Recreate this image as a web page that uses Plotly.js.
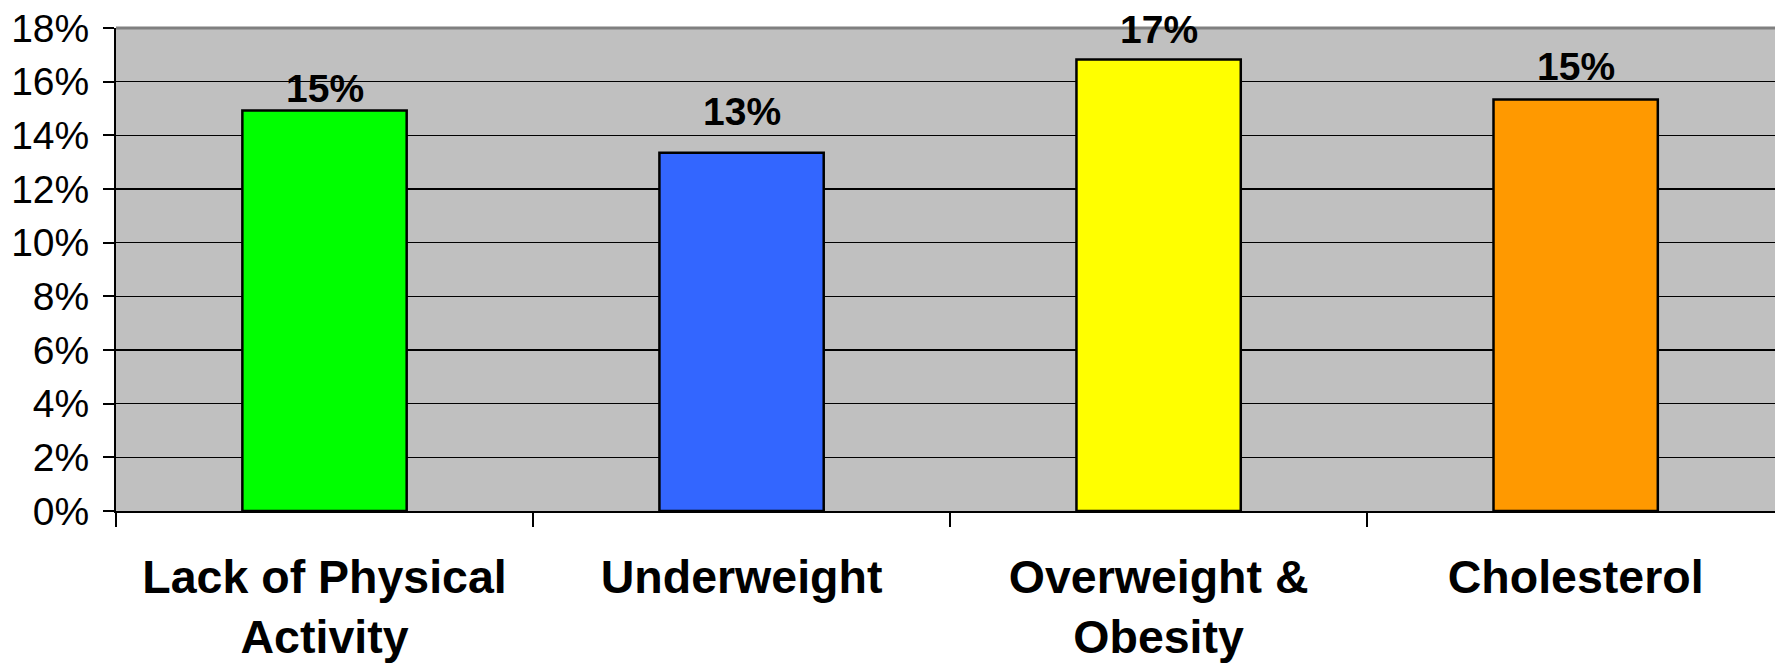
<!DOCTYPE html>
<html>
<head>
<meta charset="utf-8">
<script src="https://cdn.plot.ly/plotly-3.0.1.min.js"></script>
<style>html,body{margin:0;padding:0;background:#fff;}#chart{width:1775px;height:666px;}</style>
</head>
<body>
<div id="chart"></div>
<script>
const categories = ["Lack of Physical<br>Activity", "Underweight", "Overweight &amp;<br>Obesity", "Cholesterol"];
const values = [0.1493, 0.1335, 0.1683, 0.1534];
const barColors = ["#00FF00", "#3366FF", "#FFFF00", "#FF9900"];
const yTickVals = [0, 0.02, 0.04, 0.06, 0.08, 0.10, 0.12, 0.14, 0.16, 0.18];
// label offsets above bars (styling, px)
const labelShift = [-2, 18, 6, 9];

const trace = {
  type: "bar",
  x: categories,
  y: values,
  marker: {color: barColors, line: {color: "#000000", width: 2.5}},
  hoverinfo: "none"
};

const annotations = categories.map((c, i) => ({
  x: c, y: values[i], xref: "x", yref: "y",
  text: "<b>" + Math.round(values[i] * 100) + "%</b>",
  showarrow: false, yanchor: "bottom", yshift: labelShift[i],
  font: {family: "Liberation Sans, Arial, sans-serif", size: 39, color: "#000"}
}));

const layout = {
  width: 1775, height: 666,
  margin: {l: 116, r: 0, t: 28, b: 155, pad: 0},
  paper_bgcolor: "#FFFFFF",
  plot_bgcolor: "#C0C0C0",
  showlegend: false,
  bargap: 0.606,
  font: {family: "Liberation Sans, Arial, sans-serif", color: "#000"},
  xaxis: {
    type: "category",
    range: [-0.5, 3.478],
    tickson: "boundaries",
    ticks: "outside", ticklen: 14, tickwidth: 2, tickcolor: "#000",
    showline: true, linecolor: "#000", linewidth: 2,
    showgrid: false, zeroline: false,
    tickfont: {family: "Liberation Sans, Arial, sans-serif", size: 46.5, color: "#000", weight: "bold"},
    ticklabelstandoff: 24
  },
  yaxis: {
    range: [0, 0.18],
    tickvals: yTickVals,
    tickformat: ".0%",
    ticks: "outside", ticklen: 11, tickwidth: 2, tickcolor: "#000",
    showline: true, linecolor: "#000", linewidth: 2,
    showgrid: true, gridcolor: "#000", gridwidth: 1.5,
    zeroline: false,
    tickfont: {family: "Liberation Sans, Arial, sans-serif", size: 39, color: "#000"},
    ticklabelstandoff: 6
  },
  shapes: [{
    type: "line", xref: "paper", yref: "paper", x0: 0, x1: 1, y0: 1, y1: 1,
    line: {color: "#808080", width: 3}
  }],
  annotations: annotations
};

Plotly.newPlot("chart", [trace], layout, {displayModeBar: false, staticPlot: true});
</script>
</body>
</html>
